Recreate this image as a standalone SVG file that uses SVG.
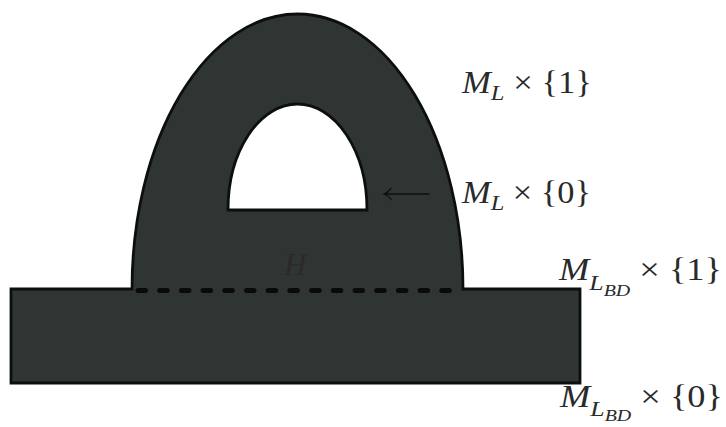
<svg xmlns="http://www.w3.org/2000/svg" width="726" height="427" viewBox="0 0 726 427">
<style>
.shape{fill:#2f3532;stroke:#0d0f0e;stroke-width:2.8;stroke-linejoin:miter}
.hole{fill:#ffffff;stroke:#0d0f0e;stroke-width:2.8}
.lbl{font-family:"Liberation Serif","DejaVu Serif",serif;font-size:31px;fill:#2a2a2a}
.it{font-style:italic}
.sub{font-style:italic;font-size:22px}
.subsub{font-style:italic;font-size:17px}
.dash{fill:none;stroke:#0a0a0a;stroke-width:5;stroke-linecap:round;stroke-dasharray:7.5 14.2}
.arrow{fill:none;stroke:#101010;stroke-width:1.3;stroke-linecap:round}
</style>
<rect width="726" height="427" fill="#ffffff"/>
<g id="body">
<path class="shape" d="M11,289 L132,289 A165.5,275 0 0 1 463,289 L580,289 L580,383 L11,383 Z"/>
<path class="hole" d="M228,210 A69.5,106 0 0 1 367,210 Z"/>
</g>
<g id="connectors">
<line class="dash" x1="138" y1="290.5" x2="458" y2="290.5"/>
<path class="arrow" d="M384,194 L429,194 M391,188.5 Q388,192.5 384,194 Q388,195.5 391,199.5"/>
</g>
<g id="label-H">
<text class="lbl it" x="284" y="275" fill="#1e2220">H</text>
</g>
<g id="label-ML1">
<text class="lbl" x="462" y="93" textLength="130" lengthAdjust="spacingAndGlyphs"><tspan class="it">M</tspan><tspan class="sub" dy="7">L</tspan><tspan dy="-7"> × {1}</tspan></text>
</g>
<g id="label-ML0">
<text class="lbl" x="462" y="203" textLength="129" lengthAdjust="spacingAndGlyphs"><tspan class="it">M</tspan><tspan class="sub" dy="7">L</tspan><tspan dy="-7"> × {0}</tspan></text>
</g>
<g id="label-MLBD1">
<text class="lbl" x="559" y="280" textLength="163" lengthAdjust="spacingAndGlyphs"><tspan class="it">M</tspan><tspan class="sub" dy="10">L</tspan><tspan class="subsub" dy="6">BD</tspan><tspan dy="-16"> × {1}</tspan></text>
</g>
<g id="label-MLBD0">
<text class="lbl" x="560" y="407" textLength="163" lengthAdjust="spacingAndGlyphs"><tspan class="it">M</tspan><tspan class="sub" dy="9">L</tspan><tspan class="subsub" dy="5">BD</tspan><tspan dy="-14"> × {0}</tspan></text>
</g>
</svg>
